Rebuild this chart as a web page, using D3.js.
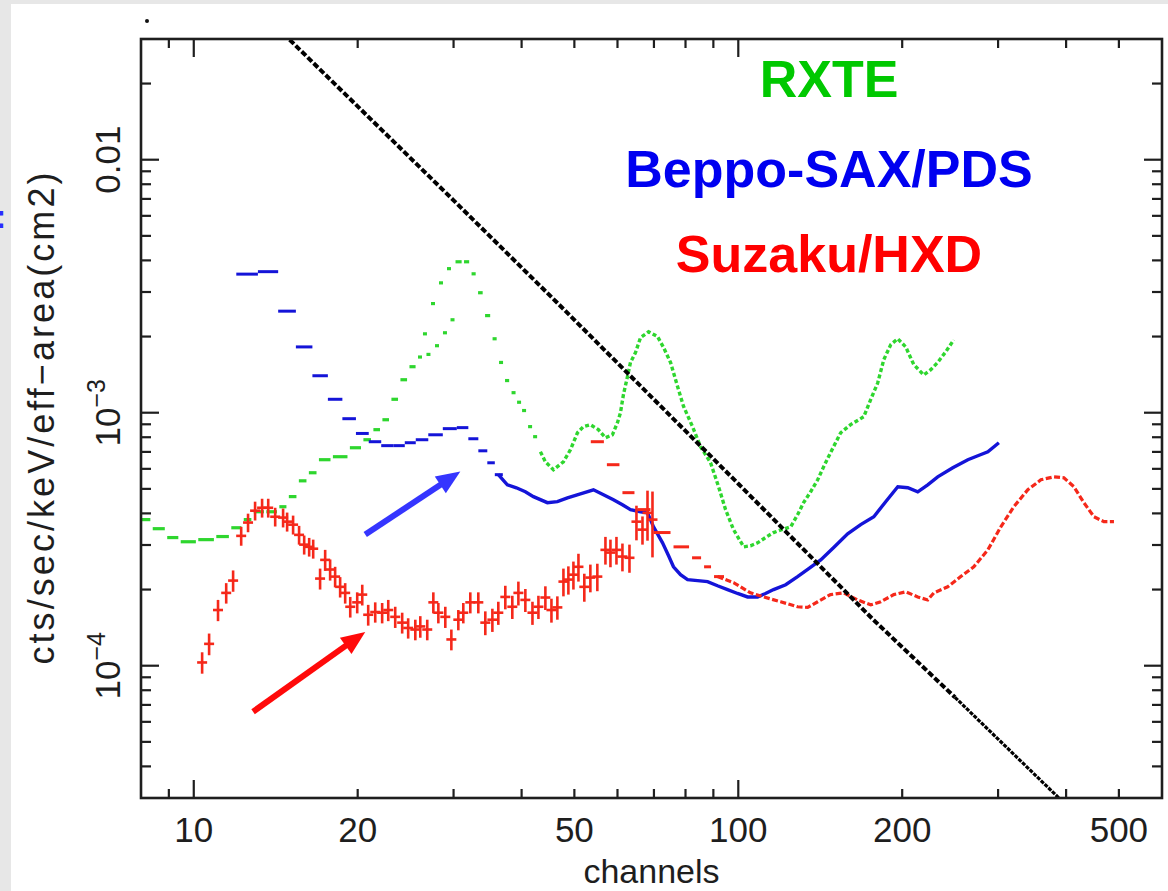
<!DOCTYPE html>
<html>
<head>
<meta charset="utf-8">
<script src="https://cdn.jsdelivr.net/npm/d3@7"></script>
<style>
  body { margin: 0; background: #fff; }
  svg { display: block; }
</style>
</head>
<body>
<svg id="main" width="1168" height="891"></svg>
<script>
// ---- values ----
const xTicksMajor = [10, 100];
const xTicksMinor = [9, 20, 30, 40, 50, 60, 70, 80, 90, 200, 300, 400, 500];
const xTickLabels = [10, 20, 50, 100, 200, 500];
const yTicksMajor = [1e-4, 1e-3, 1e-2];
const yTicksMinor = [4e-5, 5e-5, 6e-5, 7e-5, 8e-5, 9e-5,
  2e-4, 3e-4, 4e-4, 5e-4, 6e-4, 7e-4, 8e-4, 9e-4,
  2e-3, 3e-3, 4e-3, 5e-3, 6e-3, 7e-3, 8e-3, 9e-3, 2e-2];
const yTickLabels = [[1e-2, '0.01', ''], [1e-3, '10', '\u22123'], [1e-4, '10', '\u22124']];

// RXTE  [channel, cts/sec/keV/area]
const rxte = [
  [8.07, 3.78e-4], [8.67, 3.48e-4], [9.12, 3.21e-4], [9.72, 3.09e-4], [10.58, 3.15e-4],
  [11.32, 3.24e-4], [12.01, 3.51e-4], [12.58, 3.78e-4], [13.07, 4.06e-4], [13.99, 4.06e-4],
  [14.59, 4.25e-4], [15.16, 4.66e-4], [15.88, 5.38e-4], [16.50, 5.79e-4], [17.29, 6.52e-4],
  [18.57, 6.70e-4], [19.96, 7.27e-4], [20.82, 7.82e-4], [21.72, 8.57e-4], [22.47, 9.38e-4],
  [23.44, 1.13e-3], [24.25, 1.35e-3], [25.30, 1.52e-3], [26.06, 1.66e-3], [26.39, 2.05e-3],
  [26.84, 1.70e-3], [27.42, 2.70e-3], [27.77, 1.84e-3], [28.36, 3.26e-3], [28.72, 2.07e-3],
  [29.34, 3.71e-3], [29.59, 2.33e-3], [30.61, 3.95e-3], [31.80, 3.95e-3], [32.62, 3.54e-3],
  [33.60, 2.98e-3], [34.61, 2.42e-3], [35.80, 1.96e-3], [36.56, 1.58e-3], [37.66, 1.34e-3],
  [38.63, 1.20e-3], [39.46, 1.10e-3], [40.30, 1.02e-3], [41.52, 8.81e-4], [42.05, 8.04e-4],
  [43.31, 7.01e-4], [44.23, 6.40e-4], [45.76, 5.95e-4], [47.74, 6.40e-4], [49.18, 7.14e-4],
  [50.66, 8.33e-4], [51.93, 8.81e-4], [53.50, 8.97e-4], [55.34, 8.57e-4], [57.02, 7.96e-4],
  [58.73, 8.18e-4], [59.99, 9.13e-4], [60.76, 1.00e-3], [61.53, 1.18e-3], [62.59, 1.39e-3],
  [63.39, 1.58e-3], [64.75, 1.73e-3], [66.13, 1.98e-3], [68.42, 2.09e-3], [71.07, 2.00e-3],
  [72.91, 1.81e-3], [75.09, 1.58e-3], [77.35, 1.27e-3], [79.33, 1.06e-3], [82.41, 8.81e-4],
  [85.25, 7.34e-4], [88.94, 6.34e-4], [92.00, 5.10e-4], [94.76, 4.14e-4], [98.01, 3.45e-4],
  [102.3, 2.95e-4], [105.3, 2.98e-4], [108.5, 3.06e-4], [112.2, 3.21e-4], [116.1, 3.36e-4],
  [120.1, 3.45e-4], [124.8, 3.54e-4], [128.5, 3.95e-4], [131.8, 4.41e-4], [135.8, 4.87e-4],
  [139.9, 5.43e-4], [143.5, 6.12e-4], [147.7, 6.95e-4], [154.2, 8.33e-4], [160.8, 8.97e-4],
  [170.0, 9.64e-4], [175.1, 1.13e-3], [180.3, 1.31e-3], [185.0, 1.62e-3], [190.6, 1.86e-3],
  [196.3, 1.96e-3], [203.0, 1.82e-3], [210.0, 1.55e-3], [219.1, 1.41e-3], [225.7, 1.48e-3],
  [232.4, 1.58e-3], [240.4, 1.74e-3], [248.7, 1.94e-3]
];

// Beppo-SAX/PDS
const pds = [
  [12.53, 3.53e-3], [13.73, 3.61e-3], [14.87, 2.52e-3], [15.95, 1.82e-3], [17.10, 1.40e-3],
  [18.18, 1.13e-3], [19.33, 9.47e-4], [20.39, 8.28e-4], [21.54, 7.68e-4], [22.66, 7.41e-4],
  [23.85, 7.41e-4], [24.98, 7.61e-4], [26.17, 7.82e-4], [27.77, 8.18e-4], [29.59, 8.65e-4],
  [31.26, 8.73e-4], [32.62, 7.89e-4], [34.02, 7.07e-4], [35.19, 6.34e-4], [36.25, 5.69e-4],
  [37.66, 5.19e-4], [39.12, 5.05e-4], [40.64, 4.87e-4], [42.05, 4.66e-4], [44.61, 4.41e-4],
  [46.53, 4.45e-4], [48.56, 4.61e-4], [51.30, 4.78e-4], [54.20, 4.96e-4], [56.55, 4.74e-4],
  [58.98, 4.53e-4], [61.27, 4.33e-4], [63.39, 4.14e-4], [66.13, 4.06e-4], [68.12, 4.02e-4],
  [69.88, 3.54e-4], [72.59, 3.06e-4], [74.47, 2.72e-4], [76.03, 2.46e-4], [78.33, 2.29e-4],
  [80.70, 2.19e-4], [84.19, 2.17e-4], [87.82, 2.15e-4], [91.59, 2.07e-4], [95.56, 2.00e-4],
  [99.70, 1.93e-4], [104.0, 1.87e-4], [108.5, 1.87e-4], [112.2, 1.93e-4], [116.1, 2.00e-4],
  [122.2, 2.09e-4], [128.5, 2.25e-4], [134.7, 2.42e-4], [141.7, 2.62e-4], [149.7, 2.93e-4],
  [158.8, 3.32e-4], [167.8, 3.61e-4], [177.4, 3.88e-4], [186.5, 4.45e-4], [196.3, 5.10e-4],
  [204.8, 5.05e-4], [213.6, 4.87e-4], [222.8, 5.19e-4], [232.4, 5.58e-4], [247.7, 6.06e-4],
  [264.0, 6.52e-4], [275.4, 6.76e-4], [287.3, 7.01e-4], [301.0, 7.61e-4]
];

// Suzaku/HXD (lower channels, with errors)  [channel, value, error]
const hxdPin = [
  [10.36, 1.03e-4, 1.0e-5], [10.67, 1.22e-4, 1.2e-5], [11.08, 1.66e-4, 1.6e-5], [11.47, 1.94e-4, 1.8e-5],
  [11.81, 2.17e-4, 2.1e-5], [12.22, 3.26e-4, 2.8e-5], [12.58, 3.68e-4, 3.1e-5], [12.96, 4.10e-4, 3.5e-5],
  [13.35, 4.21e-4, 3.6e-5], [13.70, 4.21e-4, 3.6e-5], [14.11, 3.88e-4, 3.3e-5], [14.59, 3.85e-4, 3.3e-5],
  [14.84, 3.71e-4, 3.2e-5], [15.22, 3.61e-4, 3.1e-5], [15.61, 3.29e-4, 2.8e-5], [15.95, 3.01e-4, 2.6e-5],
  [16.29, 2.95e-4, 2.5e-5], [16.57, 2.90e-4, 2.5e-5], [17.06, 2.21e-4, 2.1e-5], [17.43, 2.62e-4, 2.5e-5],
  [17.80, 2.40e-4, 2.3e-5], [18.18, 2.25e-4, 2.1e-5], [18.57, 2.05e-4, 1.9e-5], [18.97, 1.94e-4, 1.8e-5],
  [19.38, 1.71e-4, 1.6e-5], [19.96, 1.78e-4, 1.7e-5], [20.39, 1.91e-4, 1.8e-5], [20.91, 1.59e-4, 1.5e-5],
  [21.54, 1.63e-4, 1.5e-5], [22.18, 1.62e-4, 1.5e-5], [22.76, 1.66e-4, 1.6e-5], [23.44, 1.56e-4, 1.5e-5],
  [24.14, 1.48e-4, 1.4e-5], [24.76, 1.41e-4, 1.3e-5], [25.52, 1.39e-4, 1.3e-5], [26.06, 1.43e-4, 1.4e-5],
  [26.84, 1.39e-4, 1.3e-5], [27.54, 1.78e-4, 1.7e-5], [28.13, 1.62e-4, 1.5e-5], [28.97, 1.56e-4, 1.5e-5],
  [29.72, 1.27e-4, 1.2e-5], [30.61, 1.52e-4, 1.4e-5], [31.26, 1.62e-4, 1.5e-5], [32.20, 1.78e-4, 1.7e-5],
  [33.31, 1.78e-4, 1.7e-5], [34.31, 1.48e-4, 1.6e-5], [35.35, 1.52e-4, 1.6e-5], [36.25, 1.62e-4, 1.7e-5],
  [37.34, 1.87e-4, 2.0e-5], [38.46, 1.71e-4, 1.8e-5], [39.46, 1.94e-4, 2.1e-5], [40.64, 1.82e-4, 1.9e-5],
  [41.88, 1.62e-4, 1.7e-5], [42.95, 1.71e-4, 1.8e-5], [44.23, 1.86e-4, 2.0e-5], [45.38, 1.66e-4, 1.8e-5],
  [46.53, 1.70e-4, 1.8e-5], [47.74, 2.15e-4, 2.7e-5], [48.75, 2.19e-4, 2.8e-5], [49.80, 2.29e-4, 2.9e-5],
  [50.87, 2.46e-4, 3.1e-5], [52.15, 2.05e-4, 2.6e-5], [53.50, 2.23e-4, 2.8e-5], [55.10, 2.25e-4, 2.8e-5],
  [57.02, 2.87e-4, 3.6e-5], [58.24, 2.80e-4, 3.5e-5], [59.74, 2.87e-4, 3.6e-5], [61.27, 2.70e-4, 3.4e-5],
  [63.12, 2.67e-4, 3.4e-5], [65.01, 3.71e-4, 5.8e-5], [66.69, 3.45e-4, 4.4e-5], [68.12, 4.02e-4, 9.0e-5],
  [69.57, 3.78e-4, 1.1e-4]
];

// Suzaku/HXD (upper channels)
const hxdGso = [
  [55.10, 7.68e-4], [58.98, 6.23e-4], [62.85, 4.83e-4], [66.97, 4.14e-4], [71.97, 3.36e-4],
  [79.33, 2.95e-4], [84.19, 2.67e-4], [87.82, 2.46e-4], [91.59, 2.25e-4], [98.01, 2.13e-4],
  [105.3, 1.94e-4], [111.3, 1.87e-4], [119.6, 1.79e-4], [128.5, 1.71e-4], [134.1, 1.70e-4],
  [139.9, 1.79e-4], [147.7, 1.91e-4], [156.1, 1.94e-4], [165.7, 1.82e-4], [175.1, 1.74e-4],
  [182.7, 1.79e-4], [193.0, 1.91e-4], [203.0, 1.96e-4], [213.6, 1.87e-4], [222.8, 1.82e-4],
  [228.6, 1.94e-4], [242.4, 2.05e-4], [256.2, 2.25e-4], [270.7, 2.46e-4], [287.3, 2.87e-4],
  [303.5, 3.54e-4], [320.6, 4.25e-4], [340.2, 4.96e-4], [359.5, 5.43e-4], [379.8, 5.58e-4],
  [396.3, 5.53e-4], [413.3, 5.10e-4], [431.2, 4.41e-4], [449.9, 3.88e-4], [469.3, 3.71e-4],
  [489.7, 3.71e-4]
];

// black model line
const model = [[15.0, 2.98e-2], [30.0, 6.91e-3], [46.5, 2.72e-3], [100, 5.24e-4],
  [177, 1.52e-4], [250, 7.5e-5], [388, 3.0e-5]];

const arrowPds = [[20.65, 3.30e-4], [30.87, 5.85e-4]];
const arrowHxd = [[12.85, 6.58e-5], [20.65, 1.36e-4]];
const legendNames = ['RXTE', 'Beppo-SAX/PDS', 'Suzaku/HXD'];

// channels above which the dense points are drawn as a trace
const rxteTraceFrom = 43, pdsTraceFrom = 36, gsoTraceFrom = 98, modelDenseFrom = 250;

// ---- chart ----
width = 1168, height = 891;
const plot = { left: 141, right: 1162, top: 39, bottom: 798 };
const font = "'Liberation Sans', Arial, Helvetica, sans-serif";

const x = d3.scaleLog().domain([8, 600]).range([plot.left, plot.right]);
const y = d3.scaleLog().domain([3e-5, 0.03]).range([plot.bottom, plot.top]);

let svg = d3.select('#main');

// page background + grey slide edges
svg.append('rect').attr('width', width).attr('height', height).attr('fill', '#fff');
svg.append('rect').attr('width', 11).attr('height', height).attr('fill', '#e7e7e7');
svg.append('rect').attr('width', width).attr('height', 4).attr('fill', '#e7e7e7');
svg.append('text').attr('x', -5).attr('y', 228)
  .style('font', `bold 34px ${font}`).attr('fill', '#2a2aff').text(':');
svg.append('circle').attr('cx', 147).attr('cy', 21).attr('r', 2).attr('fill', '#111');

svg.append('defs').append('clipPath').attr('id', 'clip')
  .append('rect').attr('x', plot.left).attr('y', plot.top)
  .attr('width', plot.right - plot.left).attr('height', plot.bottom - plot.top);

let data = svg.append('g').attr('clip-path', 'url(#clip)');

// bin edges half way (in log) between neighbouring channels
function edges(pts) {
  return pts.map((p, i) => {
    const prev = i > 0 ? pts[i - 1][0] : p[0] * p[0] / pts[i + 1][0];
    const next = i < pts.length - 1 ? pts[i + 1][0] : p[0] * p[0] / pts[i - 1][0];
    return [Math.sqrt(prev * p[0]), Math.sqrt(p[0] * next)];
  });
}

function bars(layer, pts, keep, color, cls, gap, sw) {
  const e = edges(pts);
  const rows = pts.map((p, i) => ({ p, e: e[i] })).filter(d => keep(d.p));
  layer.selectAll('.' + cls).data(rows).join('line')
    .attr('class', cls)
    .attr('x1', d => x(d.e[0]) + gap)
    .attr('x2', d => Math.max(x(d.e[1]) - gap, x(d.e[0]) + gap + 4))
    .attr('y1', d => y(d.p[1]))
    .attr('y2', d => y(d.p[1]))
    .attr('stroke', color)
    .attr('stroke-width', sw);
}

const green = '#2ed62e', blue = '#1414d8', red = '#f5281a';
let line = d3.line().x(d => x(d[0])).y(d => y(d[1]));

// RXTE
bars(data, rxte, d => d[0] < rxteTraceFrom, green, 'rxte', 1.2, 3.2);
data.append('path')
  .datum(rxte.filter(d => d[0] >= rxteTraceFrom))
  .attr('d', line)
  .attr('fill', 'none').attr('stroke', green).attr('stroke-width', 3.4)
  .attr('stroke-dasharray', '4,2.5');

// Beppo-SAX/PDS
bars(data, pds, d => d[0] < pdsTraceFrom + 1, blue, 'pds', 0, 3);
data.append('path')
  .datum(pds.filter(d => d[0] >= pdsTraceFrom))
  .attr('d', line)
  .attr('fill', 'none').attr('stroke', blue).attr('stroke-width', 3.4);

// Suzaku/HXD upper channels
bars(data, hxdGso, d => d[0] < gsoTraceFrom, red, 'gso', 1.5, 3);
data.append('path')
  .datum(hxdGso.filter(d => d[0] >= gsoTraceFrom - 8))
  .attr('d', line)
  .attr('fill', 'none').attr('stroke', red).attr('stroke-width', 3.2)
  .attr('stroke-dasharray', '6,2.5');

// Suzaku/HXD crosses
const pinEdges = edges(hxdPin);
let pin = data.selectAll('.pin').data(hxdPin).join('g').attr('class', 'pin');
pin.append('line')
  .attr('x1', d => x(d[0])).attr('x2', d => x(d[0]))
  .attr('y1', d => y(d[1] - d[2])).attr('y2', d => y(d[1] + d[2]))
  .attr('stroke', red).attr('stroke-width', 2.6);
pin.append('line')
  .attr('x1', (d, i) => Math.min(x(pinEdges[i][0]), x(d[0]) - 5))
  .attr('x2', (d, i) => Math.max(x(pinEdges[i][1]), x(d[0]) + 5))
  .attr('y1', d => y(d[1])).attr('y2', d => y(d[1]))
  .attr('stroke', red).attr('stroke-width', 2.6);

// model (black): coarse dashes, denser towards high channels
data.append('path')
  .datum(model.filter(d => d[0] <= modelDenseFrom))
  .attr('d', line)
  .attr('fill', 'none').attr('stroke', '#000').attr('stroke-width', 4)
  .attr('stroke-dasharray', '6,2.4');
data.append('path')
  .datum(model.filter(d => d[0] >= modelDenseFrom))
  .attr('d', line)
  .attr('fill', 'none').attr('stroke', '#000').attr('stroke-width', 3.2)
  .attr('stroke-dasharray', '4,1.2');

// arrows
function arrow(pts, color) {
  const x0 = x(pts[0][0]), y0 = y(pts[0][1]), x1 = x(pts[1][0]), y1 = y(pts[1][1]);
  const L = Math.hypot(x1 - x0, y1 - y0), ux = (x1 - x0) / L, uy = (y1 - y0) / L;
  const head = 24, half = 10;
  const bx = x1 - ux * head, by = y1 - uy * head;
  svg.append('line').attr('x1', x0).attr('y1', y0).attr('x2', bx + ux * 2).attr('y2', by + uy * 2)
    .attr('stroke', color).attr('stroke-width', 6);
  svg.append('path')
    .attr('d', `M${x1},${y1}L${bx - uy * half},${by + ux * half}L${bx + uy * half},${by - ux * half}Z`)
    .attr('fill', color);
}
arrow(arrowPds, '#3535ff');
arrow(arrowHxd, '#ff0a0a');

// frame and ticks on all four sides
let axes = svg.append('g').attr('stroke', '#1e1e1e').attr('stroke-width', 2.2);
axes.append('rect').attr('x', plot.left).attr('y', plot.top)
  .attr('width', plot.right - plot.left).attr('height', plot.bottom - plot.top)
  .attr('fill', 'none').attr('stroke-width', 2.6);

const xt = xTicksMajor.map(v => [v, 18]).concat(xTicksMinor.map(v => [v, 9]));
const yt = yTicksMajor.map(v => [v, 18]).concat(yTicksMinor.map(v => [v, 10]));
axes.selectAll('.xb').data(xt).join('line').attr('class', 'xb')
  .attr('x1', d => x(d[0])).attr('x2', d => x(d[0]))
  .attr('y1', plot.bottom).attr('y2', d => plot.bottom - d[1]);
axes.selectAll('.xt').data(xt).join('line').attr('class', 'xt')
  .attr('x1', d => x(d[0])).attr('x2', d => x(d[0]))
  .attr('y1', plot.top).attr('y2', d => plot.top + d[1]);
axes.selectAll('.yl').data(yt).join('line').attr('class', 'yl')
  .attr('y1', d => y(d[0])).attr('y2', d => y(d[0]))
  .attr('x1', plot.left).attr('x2', d => plot.left + d[1]);
axes.selectAll('.yr').data(yt).join('line').attr('class', 'yr')
  .attr('y1', d => y(d[0])).attr('y2', d => y(d[0]))
  .attr('x1', plot.right).attr('x2', d => plot.right - d[1]);

// tick labels
svg.selectAll('.xlab').data(xTickLabels).join('text').attr('class', 'xlab')
  .attr('x', d => x(d)).attr('y', 842)
  .attr('text-anchor', 'middle')
  .style('font', `35px ${font}`).attr('fill', '#1e1e1e')
  .text(d => d);

let ylab = svg.selectAll('.ylab').data(yTickLabels).join('text').attr('class', 'ylab')
  .attr('transform', d => `translate(120,${y(d[0])}) rotate(-90)`)
  .attr('text-anchor', 'middle')
  .style('font', `35px ${font}`).attr('fill', '#1e1e1e');
ylab.append('tspan').text(d => d[1]);
ylab.append('tspan').attr('dy', -15).style('font-size', '25px').text(d => d[2]);

// axis titles
svg.append('text')
  .attr('x', (plot.left + plot.right) / 2).attr('y', 883)
  .attr('text-anchor', 'middle')
  .style('font', `34px ${font}`).attr('fill', '#1e1e1e')
  .text('channels');
svg.append('text')
  .attr('transform', `translate(54,${(plot.top + plot.bottom) / 2}) rotate(-90)`)
  .attr('text-anchor', 'middle')
  .attr('textLength', 492)
  .style('font', `36px ${font}`).attr('fill', '#1e1e1e')
  .text('cts/sec/keV/eff\u2212area(cm2)');

// instrument names
const legendColors = ['#00c800', '#0000f0', '#ff0000'];
const legendBase = [97, 187, 272];
svg.selectAll('.name').data(legendNames).join('text').attr('class', 'name')
  .attr('x', 829).attr('y', (d, i) => legendBase[i])
  .attr('text-anchor', 'middle')
  .style('font', `bold 52px ${font}`)
  .attr('fill', (d, i) => legendColors[i])
  .text(d => d);
</script>
</body>
</html>
